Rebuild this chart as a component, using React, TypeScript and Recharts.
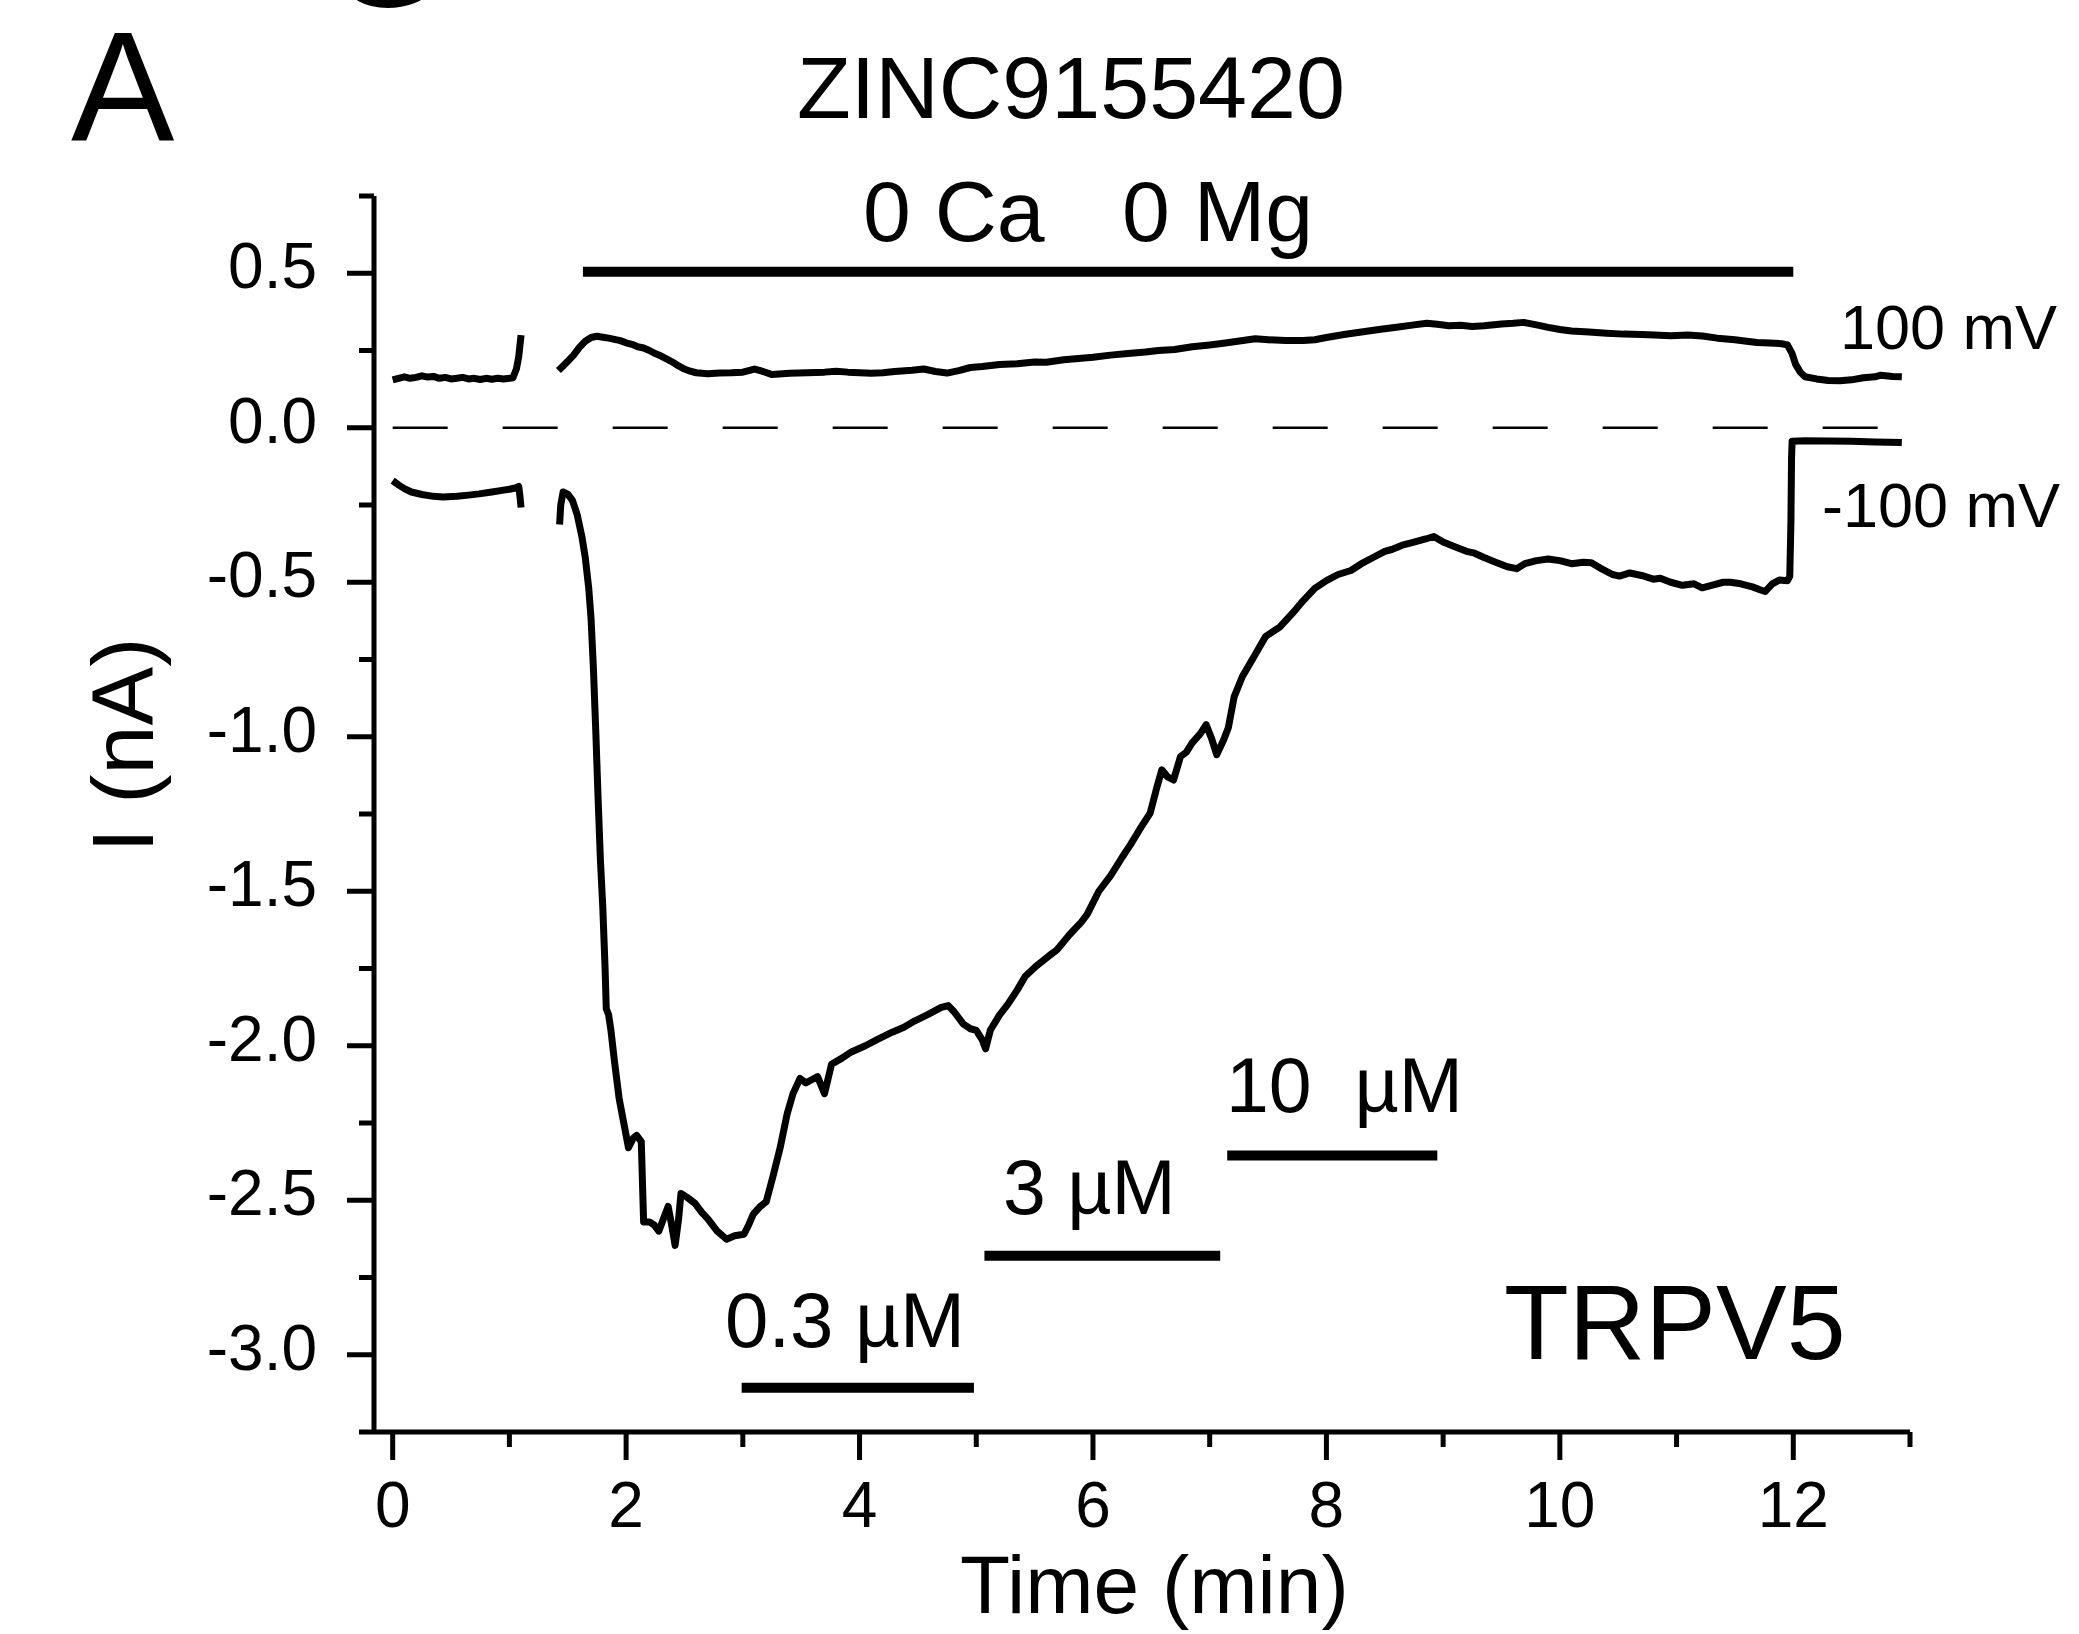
import { LineChart, Line, XAxis, YAxis } from "recharts";

// Time (min) / current (nA) pairs
const upperBefore: [number, number][] = [
  [0, 0.155], [0.05, 0.16], [0.1, 0.165], [0.15, 0.16], [0.2, 0.163], [0.25, 0.168],
  [0.3, 0.164], [0.35, 0.166], [0.4, 0.16], [0.45, 0.163], [0.5, 0.158], [0.55, 0.16],
  [0.6, 0.163], [0.65, 0.158], [0.7, 0.16], [0.75, 0.156], [0.8, 0.16], [0.85, 0.157],
  [0.9, 0.16], [0.95, 0.158], [1.0, 0.16], [1.03, 0.162], [1.06, 0.19], [1.08, 0.23], [1.1, 0.3],
];

const upperAfter: [number, number][] = [
  [1.42, 0.185], [1.46, 0.2], [1.5, 0.215], [1.55, 0.235], [1.6, 0.26], [1.65, 0.28],
  [1.7, 0.292], [1.75, 0.296], [1.8, 0.293], [1.85, 0.29], [1.9, 0.286], [1.95, 0.282],
  [2.0, 0.275], [2.05, 0.27], [2.1, 0.262], [2.15, 0.258], [2.2, 0.25], [2.25, 0.24],
  [2.3, 0.232], [2.35, 0.222], [2.4, 0.212], [2.45, 0.2], [2.5, 0.19], [2.55, 0.183],
  [2.6, 0.178], [2.7, 0.175], [2.8, 0.177], [2.9, 0.178], [3.0, 0.18], [3.1, 0.19],
  [3.15, 0.185], [3.25, 0.172], [3.4, 0.176], [3.55, 0.178], [3.7, 0.18], [3.8, 0.183],
  [3.9, 0.18], [4.0, 0.178], [4.1, 0.176], [4.2, 0.178], [4.3, 0.182], [4.45, 0.186],
  [4.55, 0.19], [4.65, 0.182], [4.75, 0.177], [4.85, 0.185], [4.95, 0.195], [5.05, 0.198],
  [5.2, 0.205], [5.35, 0.207], [5.5, 0.213], [5.6, 0.212], [5.75, 0.22], [5.9, 0.225],
  [6.0, 0.228], [6.15, 0.235], [6.3, 0.24], [6.45, 0.245], [6.56, 0.25], [6.7, 0.253],
  [6.85, 0.262], [7.0, 0.268], [7.15, 0.275], [7.3, 0.283], [7.39, 0.288], [7.5, 0.285],
  [7.65, 0.282], [7.8, 0.282], [7.9, 0.285], [8.0, 0.292], [8.15, 0.302], [8.3, 0.31],
  [8.45, 0.318], [8.6, 0.325], [8.75, 0.333], [8.86, 0.338], [8.95, 0.335], [9.05, 0.33],
  [9.15, 0.332], [9.25, 0.328], [9.35, 0.33], [9.5, 0.336], [9.6, 0.338], [9.69, 0.341],
  [9.8, 0.333], [9.9, 0.325], [10.0, 0.318], [10.1, 0.313], [10.25, 0.31], [10.4, 0.306],
  [10.55, 0.303], [10.7, 0.302], [10.81, 0.3], [10.95, 0.298], [11.1, 0.3], [11.22, 0.297],
  [11.35, 0.29], [11.5, 0.285], [11.6, 0.28], [11.69, 0.276], [11.8, 0.274], [11.9, 0.272],
  [11.95, 0.268], [11.99, 0.24], [12.02, 0.205], [12.06, 0.18], [12.1, 0.165], [12.2, 0.158],
  [12.3, 0.153], [12.4, 0.152], [12.5, 0.155], [12.6, 0.162], [12.7, 0.165], [12.75, 0.17],
  [12.85, 0.166], [12.93, 0.165],
];

const lowerBefore: [number, number][] = [
  [0, -0.171], [0.05, -0.185], [0.1, -0.197], [0.16, -0.208], [0.25, -0.216], [0.35, -0.222],
  [0.43, -0.224], [0.55, -0.222], [0.65, -0.218], [0.74, -0.214], [0.85, -0.208], [0.95, -0.202],
  [1.0, -0.199], [1.05, -0.195], [1.08, -0.19], [1.09, -0.22], [1.1, -0.258],
];

const lowerAfter: [number, number][] = [
  [1.43, -0.313], [1.44, -0.25], [1.46, -0.208], [1.5, -0.215], [1.54, -0.235], [1.58, -0.28],
  [1.62, -0.35], [1.65, -0.42], [1.68, -0.52], [1.7, -0.62], [1.72, -0.78], [1.74, -0.98],
  [1.76, -1.2], [1.78, -1.4], [1.8, -1.55], [1.82, -1.75], [1.83, -1.88], [1.85, -1.9],
  [1.87, -1.95], [1.9, -2.05], [1.94, -2.17], [1.98, -2.25], [2.02, -2.33], [2.06, -2.3],
  [2.09, -2.29], [2.13, -2.31], [2.15, -2.57], [2.2, -2.57], [2.24, -2.58], [2.28, -2.6],
  [2.32, -2.56], [2.36, -2.52], [2.39, -2.58], [2.42, -2.646], [2.45, -2.56], [2.47, -2.478],
  [2.52, -2.49], [2.59, -2.51], [2.65, -2.54], [2.7, -2.56], [2.78, -2.6], [2.86, -2.626],
  [2.93, -2.615], [3.01, -2.61], [3.05, -2.58], [3.09, -2.545], [3.15, -2.52], [3.2, -2.505],
  [3.26, -2.42], [3.32, -2.33], [3.38, -2.22], [3.43, -2.155], [3.49, -2.106], [3.54, -2.12],
  [3.59, -2.11], [3.64, -2.1], [3.7, -2.155], [3.76, -2.06], [3.85, -2.04], [3.93, -2.02],
  [4.05, -2.0], [4.15, -1.98], [4.28, -1.956], [4.38, -1.94], [4.47, -1.92], [4.58, -1.9],
  [4.7, -1.876], [4.76, -1.87], [4.81, -1.89], [4.89, -1.93], [4.95, -1.945], [5.0, -1.95],
  [5.05, -1.98], [5.08, -2.01], [5.12, -1.95], [5.2, -1.9], [5.27, -1.866], [5.35, -1.82],
  [5.42, -1.775], [5.52, -1.74], [5.62, -1.71], [5.69, -1.69], [5.8, -1.64], [5.9, -1.6],
  [5.95, -1.575], [6.05, -1.5], [6.15, -1.45], [6.25, -1.39], [6.32, -1.35], [6.4, -1.3],
  [6.49, -1.247], [6.55, -1.16], [6.59, -1.107], [6.64, -1.13], [6.69, -1.14], [6.75, -1.064],
  [6.8, -1.05], [6.85, -1.02], [6.92, -0.99], [6.97, -0.961], [7.02, -1.01], [7.06, -1.058],
  [7.12, -1.01], [7.16, -0.97], [7.21, -0.87], [7.28, -0.805], [7.38, -0.74], [7.48, -0.675],
  [7.6, -0.645], [7.71, -0.6], [7.8, -0.56], [7.9, -0.52], [8.0, -0.495], [8.1, -0.475],
  [8.21, -0.462], [8.3, -0.44], [8.4, -0.42], [8.5, -0.4], [8.56, -0.394], [8.65, -0.38],
  [8.75, -0.37], [8.85, -0.36], [8.92, -0.352], [9.0, -0.37], [9.1, -0.385], [9.2, -0.4],
  [9.27, -0.406], [9.35, -0.42], [9.45, -0.435], [9.55, -0.45], [9.63, -0.456], [9.7, -0.44],
  [9.8, -0.43], [9.9, -0.425], [10.0, -0.43], [10.1, -0.44], [10.2, -0.435], [10.27, -0.437],
  [10.35, -0.455], [10.45, -0.475], [10.51, -0.48], [10.6, -0.47], [10.7, -0.478], [10.8, -0.49],
  [10.86, -0.487], [10.95, -0.5], [11.05, -0.51], [11.15, -0.505], [11.22, -0.518], [11.3, -0.51],
  [11.4, -0.5], [11.46, -0.5], [11.55, -0.505], [11.65, -0.515], [11.72, -0.525], [11.76, -0.53],
  [11.82, -0.505], [11.88, -0.493], [11.95, -0.495], [11.97, -0.48], [11.98, -0.3],
  [11.985, -0.1], [11.99, -0.044], [12.1, -0.042], [12.3, -0.043], [12.5, -0.044],
  [12.7, -0.046], [12.93, -0.048],
];

const zeroLine: [number, number][] = [[0, 0], [12.8, 0]];

// application bars: [time, level] at both ends
const solutionBar: [number, number][] = [[1.63, 0.505], [12.0, 0.505]];
const bar03: [number, number][] = [[2.99, -3.107], [4.98, -3.107]];
const bar3: [number, number][] = [[5.07, -2.68], [7.09, -2.68]];
const bar10: [number, number][] = [[7.15, -2.355], [8.95, -2.355]];

const xTicks = [0, 1, 2, 3, 4, 5, 6, 7, 8, 9, 10, 11, 12, 13];
const yTicks = [
  -3.25, -3, -2.75, -2.5, -2.25, -2, -1.75, -1.5, -1.25, -1, -0.75, -0.5, -0.25, 0, 0.25, 0.5, 0.75,
];

const FONT = "'Liberation Sans', Arial, sans-serif";
const toPts = (arr: [number, number][]) => arr.map(([t, i]) => ({ t, i }));

function XTick({ x, y, payload }: any) {
  const v = payload.value;
  const major = v % 2 === 0;
  return (
    <g>
      <line x1={x} x2={x} y1={y} y2={y + (major ? 28 : 15)} stroke="#000" strokeWidth={5} />
      {major && (
        <text x={x} y={y + 95} textAnchor="middle" fontSize={64} fontFamily={FONT} fill="#000">
          {v}
        </text>
      )}
    </g>
  );
}

function YTick({ x, y, payload }: any) {
  const v = payload.value;
  const major = Math.abs(v * 2 - Math.round(v * 2)) < 1e-6;
  return (
    <g>
      <line x1={x} x2={x - (major ? 27 : 15)} y1={y} y2={y} stroke="#000" strokeWidth={5} />
      {major && (
        <text x={x - 57} y={y + 15} textAnchor="end" fontSize={64} fontFamily={FONT} fill="#000">
          {v.toFixed(1)}
        </text>
      )}
    </g>
  );
}

export default function App() {
  const trace = { stroke: "#000", strokeWidth: 7, dot: false, strokeLinejoin: "round" as const, isAnimationActive: false };
  const bar = { stroke: "#000", strokeWidth: 10, dot: false, isAnimationActive: false };

  return (
    <div style={{ position: "absolute", left: 0, top: 0, width: 2079, height: 1634, background: "#fff" }}>
      <LineChart width={2079} height={1634} margin={{ top: 196, right: 169, bottom: 0, left: 0 }}>
        <XAxis
          dataKey="t"
          type="number"
          domain={[-0.16, 13]}
          ticks={xTicks}
          interval={0}
          tickSize={0}
          tickMargin={0}
          tick={<XTick />}
          height={202}
          axisLine={{ stroke: "#000", strokeWidth: 5 }}
        />
        <YAxis
          dataKey="i"
          type="number"
          domain={[-3.25, 0.75]}
          ticks={yTicks}
          interval={0}
          tickSize={0}
          tickMargin={0}
          tick={<YTick />}
          width={374}
          axisLine={{ stroke: "#000", strokeWidth: 5 }}
        />
        <Line data={toPts(zeroLine)} dataKey="i" stroke="#000" strokeWidth={2.5} strokeDasharray="55 55" dot={false} isAnimationActive={false} />
        <Line data={toPts(upperBefore)} dataKey="i" {...trace} />
        <Line data={toPts(upperAfter)} dataKey="i" {...trace} />
        <Line data={toPts(lowerBefore)} dataKey="i" {...trace} />
        <Line data={toPts(lowerAfter)} dataKey="i" {...trace} />
        <Line data={toPts(solutionBar)} dataKey="i" {...bar} />
        <Line data={toPts(bar03)} dataKey="i" {...bar} />
        <Line data={toPts(bar3)} dataKey="i" {...bar} />
        <Line data={toPts(bar10)} dataKey="i" {...bar} />
      </LineChart>
      <svg
        width={2079}
        height={1634}
        style={{ position: "absolute", left: 0, top: 0, pointerEvents: "none" }}
        fontFamily={FONT}
        fill="#000"
      >
        <text x={326} y={6} fontSize={155}>G</text>
        <text x={71} y={140} fontSize={155}>A</text>
        <text x={797} y={118} fontSize={88}>ZINC9155420</text>
        <text x={863} y={241} fontSize={86}>0 Ca</text>
        <text x={1122} y={241} fontSize={86}>0 Mg</text>
        <text x={1840} y={349} fontSize={63}>100 mV</text>
        <text x={1822} y={527} fontSize={63}>-100 mV</text>
        <text x={1003} y={1214} fontSize={77} style={{ whiteSpace: "pre" }}>3 µM</text>
        <text x={1226} y={1112} fontSize={77} style={{ whiteSpace: "pre" }}>10  µM</text>
        <text x={725} y={1347} fontSize={78} style={{ whiteSpace: "pre" }}>0.3 µM</text>
        <text x={1504} y={1359} fontSize={106}>TRPV5</text>
        <text x={960} y={1613} fontSize={82}>Time (min)</text>
        <text x={153} y={745} fontSize={88} textAnchor="middle" transform="rotate(-90 153 745)">
          I (nA)
        </text>
      </svg>
    </div>
  );
}
